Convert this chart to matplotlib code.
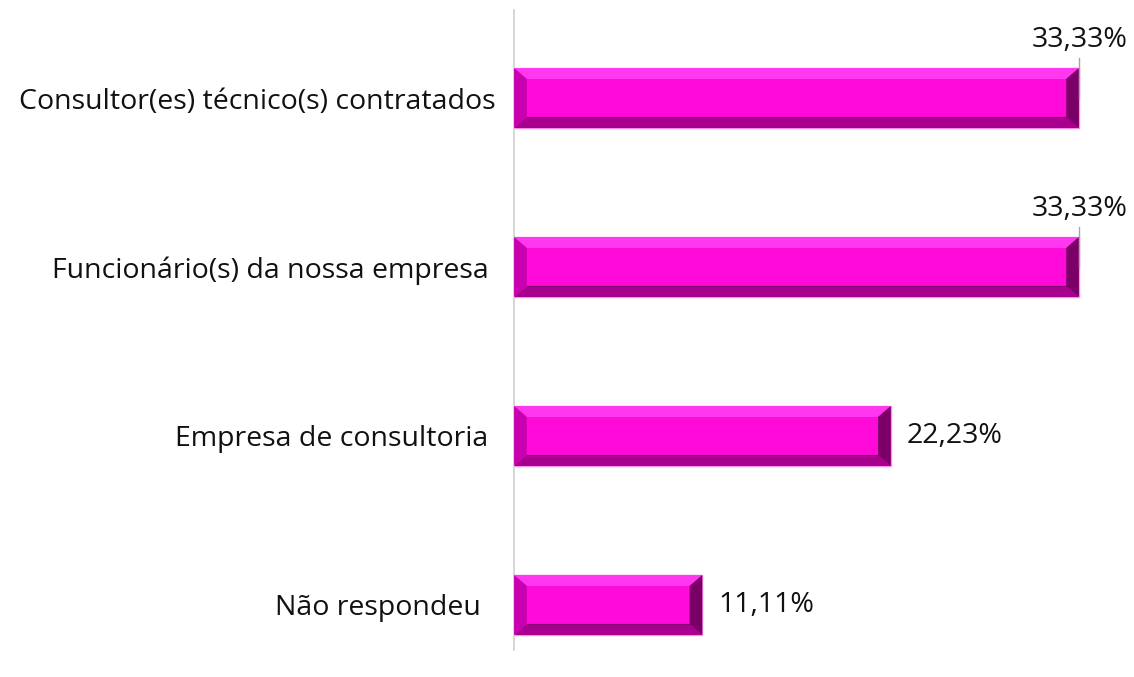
import numpy as np
import matplotlib.pyplot as plt
from matplotlib.patches import Polygon, Rectangle

categories = ['Não respondeu  ', 'Empresa de consultoria ',
              'Funcionário(s) da nossa empresa ', 'Consultor(es) técnico(s) contratados']
values = [11.11, 22.23, 33.33, 33.33]
labels = ['11,11%', '22,23%', '33,33%', '33,33%']

plt.rcParams['font.family'] = ['Open Sans', 'DejaVu Sans']

fig = plt.figure(figsize=(11.34, 6.77), dpi=100)
ax = fig.add_axes([0.4533, 0.04, 0.538, 0.945])

ypos = np.arange(len(categories))
h = 0.355
bx = 0.75   # bevel width in data units (x)
by = 0.065  # bevel height in data units (y)

main = '#ff0ad8'
for y, v in zip(ypos, values):
    x0, x1 = 0, v
    y0, y1 = y - h / 2, y + h / 2
    ax.add_patch(Rectangle((x0, y0), v, h, facecolor=main, edgecolor='#ff8cef', lw=1.0, zorder=2))
    # top bevel
    ax.add_patch(Polygon([(x0, y1), (x1, y1), (x1 - bx, y1 - by), (x0 + bx, y1 - by)],
                         closed=True, facecolor='#ff38f0', edgecolor='none', zorder=3))
    # bottom bevel
    ax.add_patch(Polygon([(x0, y0), (x1, y0), (x1 - bx, y0 + by), (x0 + bx, y0 + by)],
                         closed=True, facecolor='#a8008e', edgecolor='none', zorder=3))
    # left bevel
    ax.add_patch(Polygon([(x0, y0), (x0, y1), (x0 + bx, y1 - by), (x0 + bx, y0 + by)],
                         closed=True, facecolor='#c800b0', edgecolor='none', zorder=3))
    # right bevel
    ax.add_patch(Polygon([(x1, y0), (x1, y1), (x1 - bx, y1 - by), (x1 - bx, y0 + by)],
                         closed=True, facecolor='#7a0068', edgecolor='none', zorder=3))
    # inner edge line
    ax.plot([x0 + bx, x1 - bx], [y0 + by, y0 + by], color='#850070', lw=0.8, zorder=4)

for y, v, lab in zip(ypos, values, labels):
    if v > 30:
        ax.plot([v, v], [y, y + h / 2 + 0.06], color='#a6a6a6', lw=1, zorder=5)
        ax.text(v + 2.85, y + 0.30, lab, ha='right', va='baseline', fontsize=20.5, color='#111111')
    else:
        ax.text(v + 0.95, y, lab, ha='left', va='center', fontsize=20.5, color='#111111')

ax.set_xlim(0, 36)
ax.set_ylim(-0.266, 3.52)
ax.set_yticks(ypos)
ax.set_yticklabels(categories, fontsize=20.5, color='#111111')
ax.tick_params(axis='y', length=0, pad=13)
ax.set_xticks([])
for s in ['top', 'right', 'bottom']:
    ax.spines[s].set_visible(False)
ax.spines['left'].set_color('#d0d0d0')
ax.spines['left'].set_linewidth(1.2)

fig.savefig('out.png', dpi=100)
